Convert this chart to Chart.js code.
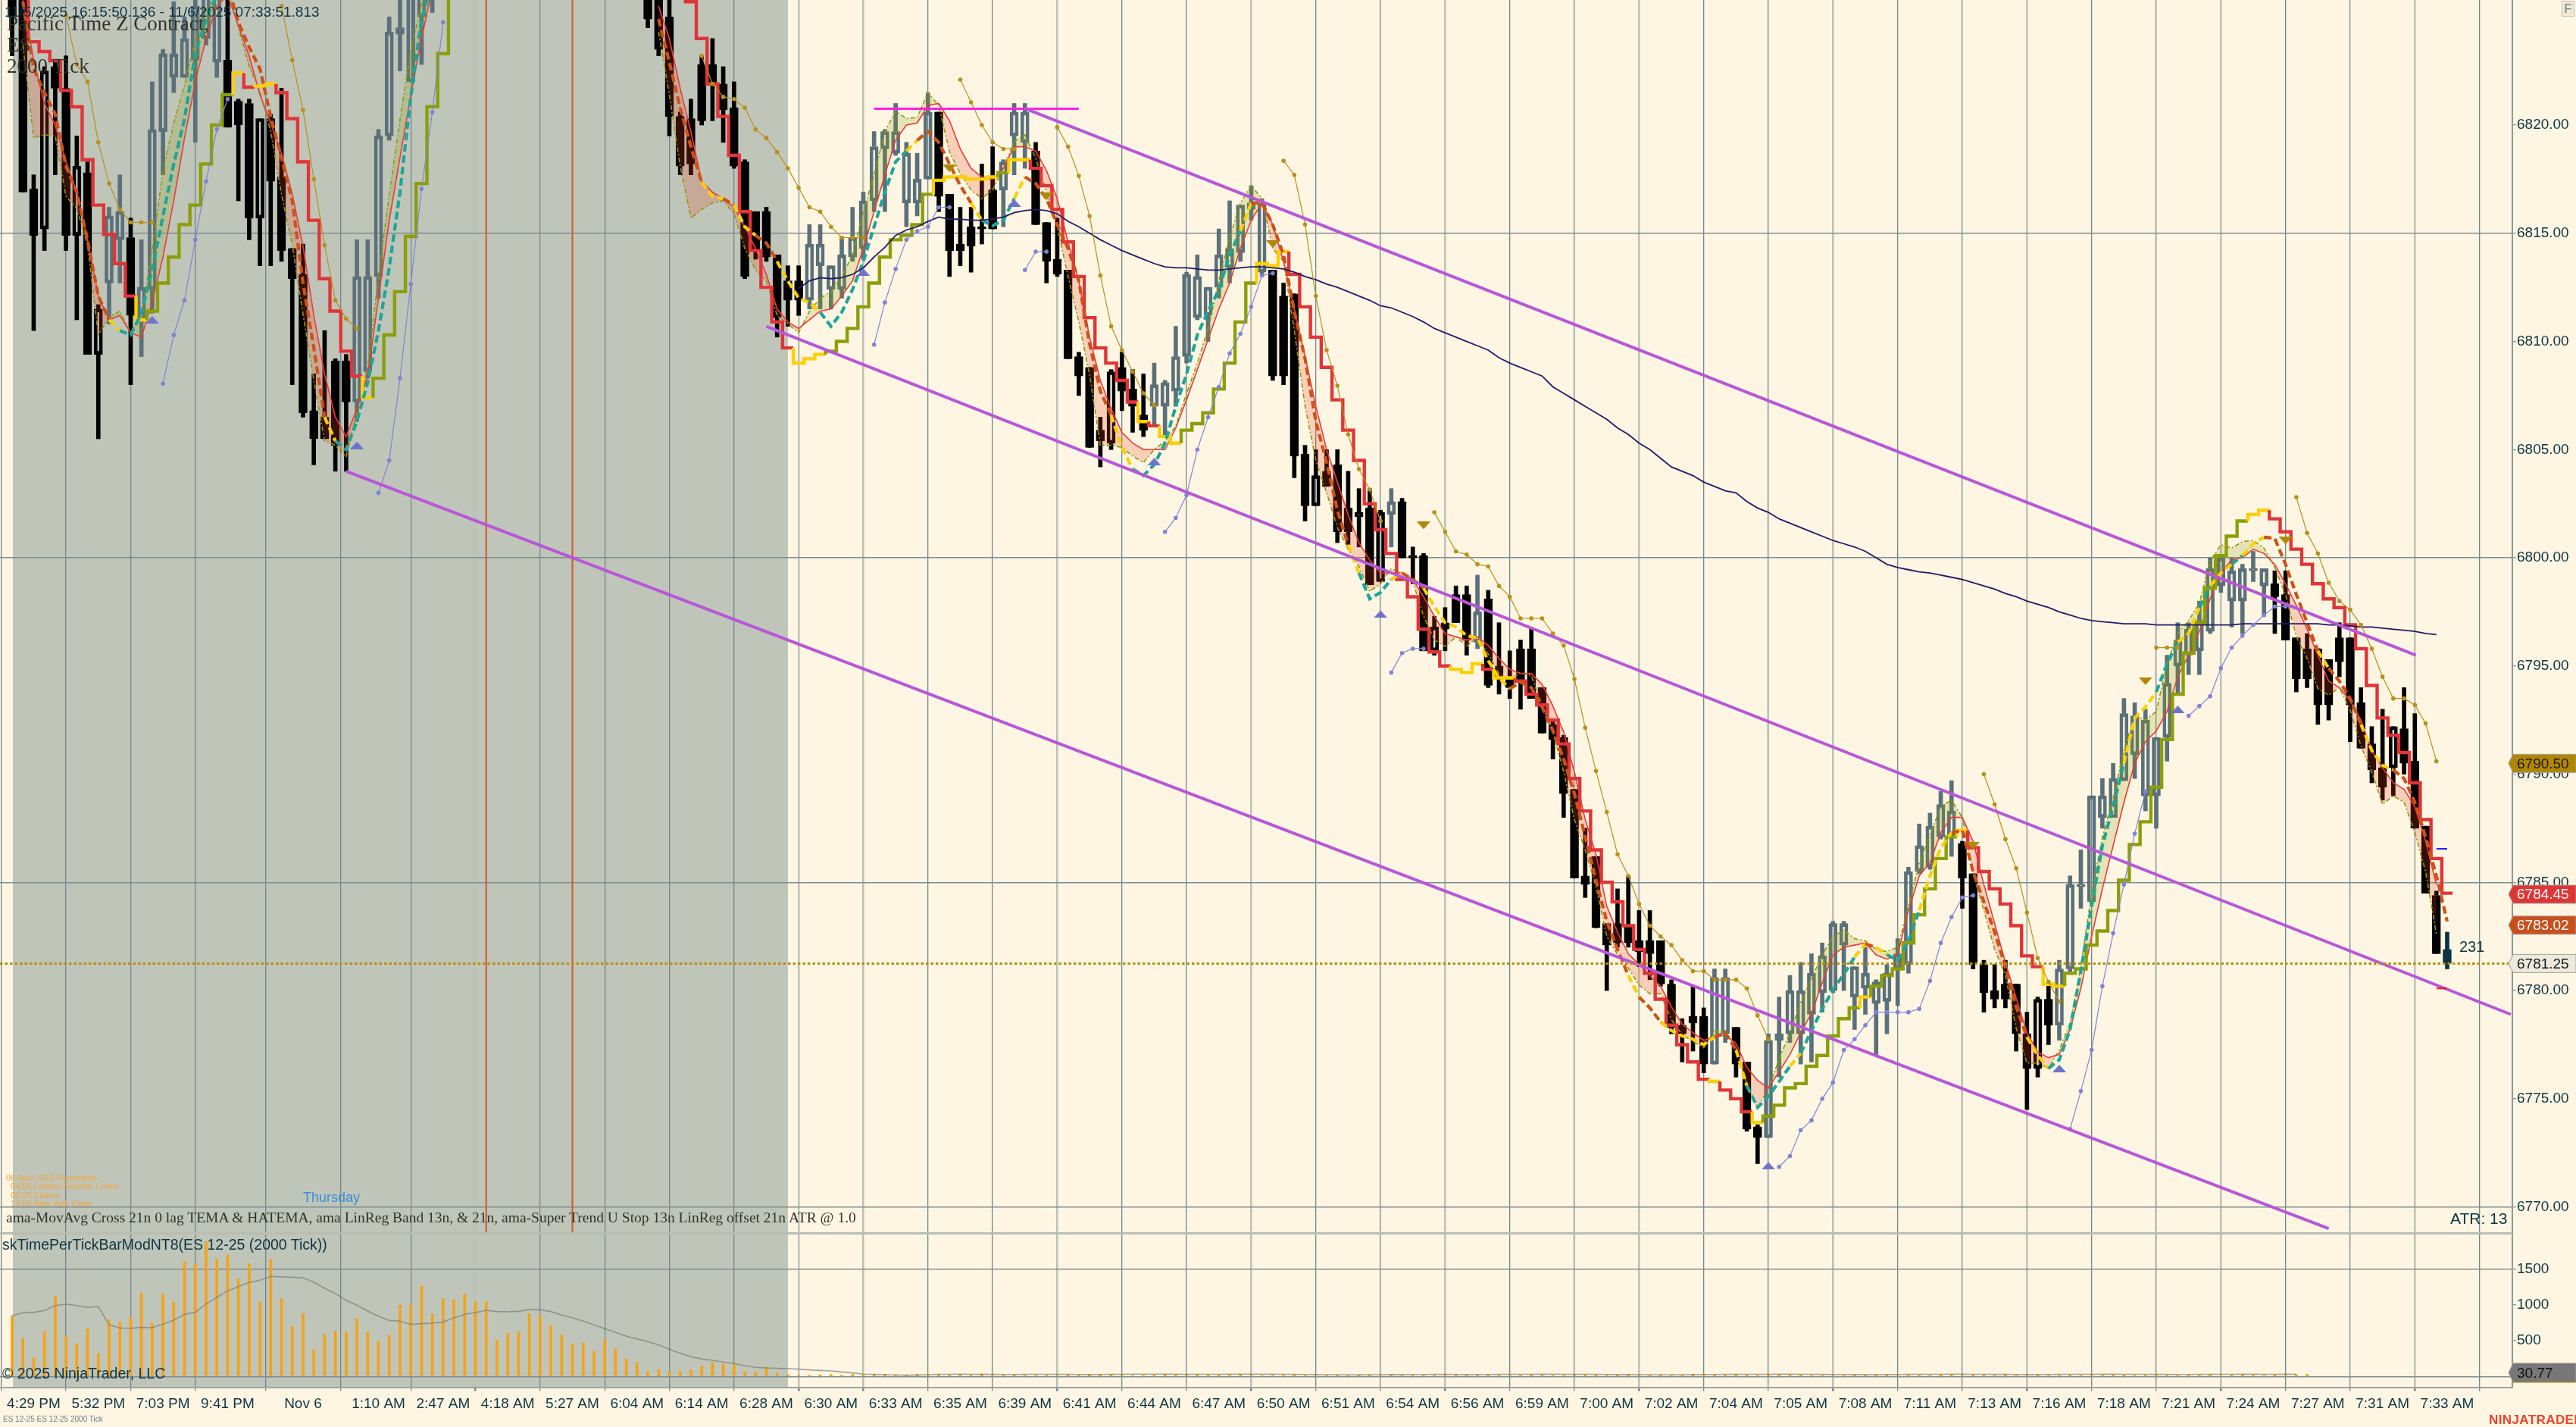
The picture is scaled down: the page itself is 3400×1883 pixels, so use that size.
<!DOCTYPE html>
<html>
<head>
<meta charset="utf-8">
<title>ES 12-25 2000 Tick</title>
<script src="https://cdn.jsdelivr.net/npm/chart.js@4"></script>
<style>
  html, body { margin: 0; padding: 0; background: #fef6e3; overflow: hidden; }
  #page { position: relative; width: 3400px; height: 1883px; }
  canvas { position: absolute; left: 0; display: block; }
  .txt { position: absolute; white-space: pre; font-family: "Liberation Sans", sans-serif; color: #0f3443; line-height: 1; }
  .serif { font-family: "Liberation Serif", serif; color: #33332c; }
  .rem { color: #f5a53a; font-size: 11px; }
</style>
</head>
<body>
<div id="page">
  <canvas id="priceChart" width="3400" height="1626" style="top:0"></canvas>
  <canvas id="volChart" width="3400" height="257" style="top:1626px"></canvas>

  <div class="txt" style="left:6px;top:6px;font-size:19px">11/5/2025 16:15:50.136 - 11/6/2025 07:33:51.813</div>
  <div class="txt serif" style="left:9px;top:18px;font-size:27px">Pacific Time Z Contract,</div>
  <div class="txt serif" style="left:9px;top:46px;font-size:27px">ES</div>
  <div class="txt serif" style="left:9px;top:74px;font-size:27px">2000 Tick</div>
  <div class="txt rem" style="left:8px;top:1549px">06-Nov-2025 Reminders</div>
  <div class="txt rem" style="left:14px;top:1560px">04:00 London Session Lunch</div>
  <div class="txt rem" style="left:14px;top:1572px">05:25 Claims</div>
  <div class="txt rem" style="left:14px;top:1583px">13:00 New York Close</div>
  <div class="txt" style="left:400px;top:1571px;font-size:18px;color:#3a8fd8">Thursday</div>
  <div class="txt serif" style="left:8px;top:1597px;font-size:19.5px">ama-MovAvg Cross 21n 0 lag TEMA &amp; HATEMA, ama LinReg Band 13n, &amp; 21n, ama-Super Trend U Stop 13n LinReg offset 21n ATR @ 1.0</div>
  <div class="txt" style="left:3px;top:1633px;font-size:19.5px">skTimePerTickBarModNT8(ES 12-25 (2000 Tick))</div>
  <div class="txt" style="left:3px;top:1803px;font-size:19.5px">&copy; 2025 NinjaTrader, LLC</div>
  <div class="txt" style="left:3234px;top:1597px;font-size:21px">ATR: 13</div>
  <div class="txt" style="left:3246px;top:1239px;font-size:20px">231</div>
  <div class="txt" style="left:4px;top:1868px;font-size:10px;color:#6a7c80">ES 12-25 ES 12-25 2000 Tick</div>
  <div class="txt" style="left:3285px;top:1865px;font-size:17px;font-weight:bold;color:#e8452c;letter-spacing:0.4px">NINJATRADER</div>
  <div class="txt" style="left:3381px;top:1px;width:17px;height:21px;background:#efe9d5;border:1px solid #c4c4b4;box-sizing:border-box;color:#6a8088;font-size:16px;text-align:center;line-height:20px">F</div>
</div>

<script>
// bars 0..226. nulls = bar is above the top of the window
const opens = [
  6827,6827,6817.05,6822.5,6822.7,6821.7,6818.1,6817.8,6811.5,6812.7,
  6814.7,6814.8,6811,6812.4,6819.7,6822.2,6822.2,6823,6824,6822.9,
  6823,6821.1,6821,6820.3,6820.3,6817.6,6814.3,6813.1,6806.8,6806.5,
  6809.1,6809.1,6807.2,6808.6,6813,6819.5,6824.2,6822,6825,6826,
  null,null,null,null,null,null,null,null,null,null,
  null,null,null,null,null,null,null,null,null,6826.5,
  6827,6825,6820.4,6820.3,6822.8,6822.8,6821.9,6820.8,6818.3,6816,
  6816,6814,6812.8,6812.8,6811.9,6813.5,6812.4,6812.4,6813.9,6814.3,
  6816.5,6818.9,6818.7,6816.4,6816.4,6817.5,6820.6,6816.8,6814.5,6815.3,
  6815.3,6817,6817,6819.5,6819.2,6818.8,6815.5,6813.8,6813.3,6809.3,
  6808.8,6805.9,6808.6,6808.8,6807.8,6806.6,6807,6807,6807.7,6809.3,
  6811.1,6811.2,6812.5,6813.4,6814.1,6816.1,6813.2,6813.3,6812.1,6812.2,
  6804.8,6803.8,6804,6804.3,6802.3,6802.1,6802.3,6802.1,6802,6802.6,
  6800.1,6800.1,6796.8,6797,6798.3,6798.3,6796.1,6798.1,6795,6794.5,
  6795.8,6795.8,6794,6792.3,6791.7,6789.3,6785.3,6786.2,6783.1,6783.1,
  6783,6782.3,6782.3,6782.3,6780.3,6778.4,6778.8,6778.8,6776.6,6778,
  6778.3,6776.7,6773.7,6773.2,6777.7,6778,6778,6778.9,6779.9,6780,
  6782.1,6779.7,6780.1,6779.4,6779.5,6781,6781.2,6785.5,6785.7,6787.1,
  6787.1,6786.8,6785.4,6781.2,6780,6780.3,6780.3,6778,6779.6,6779.6,
  6778.4,6781,6784.8,6784.1,6788,6788,6789.7,6790.9,6789,6789,
  6791.7,6795,6795.5,6795.7,6796.6,6798.7,6798,6798,6799.4,6798.7,
  6798.8,6798.3,6796.3,6795.8,6795.8,6795.3,6796.3,6796.3,6793.3,6791.4,
  6790.3,6792.2,6792.1,6790.6,6787.6,6784.4,6781.9
];
const closes = [
  6825,6816.9,6814.9,6815.2,6821.7,6814.9,6814.9,6809.4,6809.4,6815.8,
  6816,6811.2,6812.5,6819.8,6823.3,6823.3,6824,6825.5,6826,6826,
  6819.9,6820,6815.7,6815.7,6817.4,6814.2,6812.9,6806.7,6805.5,6805.5,
  6805.2,6807.2,6813,6813,6819.5,6824.3,6824.5,6826,6827,6827,
  null,null,null,null,null,null,null,null,null,null,
  null,null,null,null,null,null,null,null,null,6824.9,
  6823.5,6820.4,6818.1,6818.2,6820.2,6821.9,6820.7,6818.1,6813,6814.2,
  6813.9,6811.1,6811.9,6811.9,6814.5,6814.5,6813.5,6814,6814.8,6816.5,
  6819,6819.7,6819.7,6818.7,6817.5,6820.6,6816.7,6814.2,6814.2,6814.4,
  6815.2,6815.2,6818.3,6820.6,6820.6,6815.4,6813.7,6813.1,6809.2,6808.4,
  6805.1,6805.4,6805.3,6807.7,6807,6805.9,6808,6808.1,6809.3,6813.1,
  6813,6812.5,6814,6814.3,6816.3,6816.4,6816.4,6808.4,6808.4,6804.7,
  6802.4,6802.4,6803.3,6801.2,6801.2,6801.9,6798.75,6798.9,6802.6,6800,
  6800,6795.7,6795.7,6796.7,6797,6796.2,6797.5,6794.1,6794.4,6794,
  6794.3,6793.5,6791.9,6791.6,6789.1,6785.2,6784.9,6782.9,6782.1,6782.2,
  6782.2,6781.8,6781.7,6780.3,6778.3,6778,6778.5,6776.6,6780.6,6780.6,
  6776.6,6773.6,6773.2,6777.7,6778,6780,6780,6780.8,6781.6,6783.1,
  6783.1,6781.1,6780.8,6780.4,6780.8,6781.7,6785.5,6786.7,6787.6,6788.6,
  6788.3,6785.2,6781.2,6779.9,6779.6,6779.6,6778,6776.4,6776.4,6778.4,
  6781,6784.9,6784.9,6789,6789,6789.8,6792.8,6792.7,6792.5,6791.7,
  6794.2,6796.2,6796.7,6797.1,6799.5,6800,6799.4,6799.5,6799.5,6799.5,
  6798.2,6796.2,6794.4,6794.4,6793.2,6793.2,6795.2,6793.2,6791.2,6790.2,
  6789.4,6790.3,6790.5,6787.5,6784.5,6781.7,6781.25
];
const highs = [
  6828,6828,6817.7,6822.7,6823,6823.2,6819.5,6818.3,6811.7,6816.2,
  6817.7,6815.7,6814.7,6822,6823.5,6825.7,6825,6826.5,6827,6827,
  6826,6821.2,6821.2,6820.3,6820.5,6821.7,6814.3,6814.5,6808.5,6810.5,
  6809.2,6809.4,6814.7,6814.7,6819.8,6825,6826,6827,6828,6828,
  null,null,null,null,null,null,null,null,null,null,
  null,null,null,null,null,null,null,null,null,6827,
  6828,6826,6820.6,6821.2,6823.2,6824,6822.7,6822,6818.4,6816,
  6816.2,6814,6813.5,6813.5,6815.4,6815.4,6813.5,6814.8,6816.2,6816.9,
  6819.7,6819.8,6821,6819.2,6818.7,6821.5,6820.6,6816.8,6816.2,6816.2,
  6818.2,6819,6818.4,6821,6821,6819.2,6815.5,6815.7,6813.3,6809.5,
  6808.8,6806.5,6808.7,6809.5,6808.7,6808.5,6809,6808.2,6810.7,6813.2,
  6814,6812.5,6815.2,6816.5,6816.3,6817.2,6816.6,6813.3,6812.7,6812.2,
  6805.2,6805,6805,6805,6804,6803.2,6803.2,6802.2,6803.2,6802.75,
  6800.5,6800.2,6797.3,6797.7,6798.7,6798.7,6799.2,6798.5,6797,6795.7,
  6796.2,6796.7,6794,6792.5,6791.8,6789.3,6787.5,6786.2,6783.1,6784.7,
  6785.3,6783.7,6783.7,6782.3,6780.5,6778.7,6780.2,6779.2,6781,6781,
  6778.3,6776.7,6773.8,6778,6779.7,6780.7,6781.3,6781.7,6782.2,6783.2,
  6783.2,6781.1,6782,6780.5,6781.2,6782.4,6785.7,6787.7,6788.2,6789.2,
  6789.7,6786.9,6785.4,6781.4,6781.2,6781.4,6780.3,6779,6779.7,6780.2,
  6781.4,6785.3,6786.5,6789,6789.8,6790.5,6793.5,6793.3,6793,6791.7,
  6795.5,6797,6797,6798,6800,6800.1,6800,6799.7,6800.3,6799.5,
  6799.4,6799.4,6796.3,6796.5,6795.8,6795.3,6797,6796.3,6794,6792.2,
  6793,6792.2,6794,6792.8,6787.6,6784.6,6782.7
];
const lows = [
  6823.2,6816.9,6810.5,6814.2,6817.7,6814.2,6811,6809.4,6805.5,6810.8,
  6812.7,6808,6809.3,6811.3,6817.7,6821.5,6822.2,6819.2,6823.7,6822.2,
  6819.9,6816.5,6814.7,6813.5,6813.5,6813.7,6808,6806.5,6804.3,6805.5,
  6804,6804,6806.3,6808.3,6812,6819.3,6822.5,6822,6822.8,6825.2,
  null,null,null,null,null,null,null,null,null,null,
  null,null,null,null,null,null,null,null,null,6824.5,
  6823.2,6819.5,6817.7,6817.7,6820,6820.2,6819.2,6818,6812.9,6813.8,
  6813.7,6810.2,6810.7,6811.2,6811.5,6811.5,6811.5,6812,6813.7,6813.8,
  6816,6816,6818.6,6815.3,6815.8,6817.5,6816,6813,6813.5,6813.2,
  6814.5,6815.2,6815.3,6817.7,6818,6815.4,6812.7,6813,6809.2,6807.5,
  6805.1,6804.2,6805,6806.8,6805.8,6805.6,6806.1,6805.6,6807,6809,
  6811,6810,6812,6812.7,6813.7,6815.6,6813,6808.2,6808,6803.7,
  6801.7,6802.4,6803.3,6800.7,6800.6,6800.5,6798.75,6798.9,6800.5,6800,
  6798.8,6795.7,6795.5,6795.7,6797,6795.5,6795.8,6794,6793.7,6793.5,
  6793,6793.5,6791.9,6790.7,6788,6785.2,6784.3,6782.9,6780,6782,
  6782,6781.1,6780.5,6780.2,6778,6776.7,6777.2,6776.2,6776.6,6777.6,
  6776,6773.5,6772,6773.2,6776,6777.6,6776.6,6776.7,6779,6779.9,
  6780,6778.2,6778.9,6777,6778,6779.3,6780.8,6785.4,6785.6,6787,
  6786.2,6783.8,6781,6779,6779.2,6779.2,6777.2,6774.5,6776,6777.5,
  6777.7,6780.8,6783.8,6784,6787.5,6788,6789.7,6789.8,6788.3,6787.5,
  6790.6,6793.7,6794.6,6794.6,6796.5,6798.4,6796.8,6796.5,6798.9,6797.3,
  6796.5,6796.2,6793.8,6794,6792.3,6792.5,6794.5,6791.5,6791.2,6789.6,
  6788.8,6789,6790,6787.5,6784.5,6781.7,6781
];
// black bars that have a slit in the body
const slitBlack = [3,6,8,23,102,121,127,132,188,221];

// super trend stop, one value a bar, and which colour run it is in
const stopLine = [
  null,6827.5,6823.85,6823.4,6822.98,6821.6,6820.84,6818.4,6816.3,6814.95,
  6813.6,6812.1,6811,6811.4,6812.7,6813.9,6815.4,6816.3,6818.2,6820,
  6821.4,6822.4,6821.75,6821.8,6821.9,6821.5,6820.3,6818.3,6815.6,6812.9,
  6811.4,6809.55,6808.4,6807.4,6808.3,6810.3,6812.3,6814.85,6817.3,6820.85,
  6823.3,6826.5,null,null,null,null,null,null,null,null,
  null,null,null,null,null,null,null,null,null,null,
  null,null,6826.2,6825.7,6824,6821.9,6820.4,6818.6,6816,6814.2,
  6812.5,6810.9,6809.7,6809,6809.2,6809.4,6809.55,6810,6810.6,6811.6,
  6812.7,6813.9,6814.7,6814.9,6815.4,6816.8,6817.45,6817.6,6817.6,6817.5,
  6817.5,6817.6,6817.8,6818.4,6818.4,6818,6817.2,6816.1,6814.6,6813,
  6811.1,6809.7,6809,6808.2,6807.2,6806.3,6806.1,6805.6,6805.3,6805.9,
  6806.2,6806.7,6807.8,6809,6810.9,6812.7,6813.6,6813.5,6814.15,6813.1,
  6811.6,6810.2,6808.8,6807.3,6805.9,6804.5,6802.5,6801.3,6800.2,6799,
  6798.2,6796.7,6795.65,6795,6794.85,6794.7,6795.1,6794.85,6794.45,6794.45,
  6794.3,6793.7,6793.2,6792.5,6791.4,6789.8,6788.3,6786.5,6785,6784.1,
  6783,6781.9,6780.8,6779.6,6778.4,6777.5,6776.7,6775.9,6775.8,6775.4,
  6775,6774.4,6773.9,6774.2,6774.7,6775.5,6775.7,6776.5,6777,6777.9,
  6778.7,6779.2,6779.7,6780.2,6780.7,6781,6782.2,6783.5,6784.7,6786.1,
  6787.1,6787.4,6786.6,6785.5,6784.7,6784,6783,6781.6,6781.1,6780.3,
  6780.2,6780.8,6781,6782.1,6782.75,6783.7,6785.1,6786.75,6787.8,6789.4,
  6791.6,6793.7,6795.6,6797,6798.6,6800.1,6801,6801.7,6802,6802.2,
  6801.8,6801.2,6800.4,6799.7,6798.8,6798.1,6797.7,6796.9,6795.8,6794.1,
  6792.6,6791.8,6791,6789.6,6787.9,6786.1,6784.5
];
// [first bar, last bar, d=down u=up n=neutral]
const stopRuns = [[0,11,'d'],[12,12,'n'],[13,20,'u'],[21,21,'n'],[22,22,'d'],[23,24,'n'],[25,32,'d'],[33,33,'n'],[34,61,'u'],
  [62,72,'d'],[73,75,'n'],[76,85,'u'],[86,91,'n'],[92,92,'u'],[93,94,'n'],[95,104,'d'],[105,105,'n'],[106,106,'d'],[107,108,'n'],
  [109,115,'u'],[116,118,'n'],[119,133,'d'],[134,136,'n'],[137,137,'d'],[138,139,'n'],[140,157,'d'],[158,158,'n'],[159,161,'d'],
  [162,162,'n'],[163,171,'u'],[172,172,'n'],[173,180,'u'],[181,181,'n'],[182,188,'d'],[189,190,'n'],[191,207,'u'],[208,209,'n'],[210,226,'d']];

// 0 lag TEMA, the thick dashed one
const temaLine = [
  null,6825.7,6822.6,6821.5,6820.5,6818.1,6816.9,6814.7,6812.1,6811,
  6810.5,6810.3,6811.3,6813.3,6815.8,6818.2,6820.3,6823.3,6824.9,6826,
  6826.5,6824.75,6823.6,6822.6,6820.4,6818.5,6816.5,6812.7,6809.7,6806.5,
  6805.4,6805,6806.3,6808.1,6810.5,6813.4,6816.9,6821.3,6824.9,6826.5,
  null,null,null,null,null,null,null,null,null,null,
  null,null,null,null,null,null,null,null,null,null,
  6824.9,6822.9,6820.8,6819,6817.35,6816.7,6816.6,6816.3,6815.3,6814.9,
  6814.55,6813.7,6812.8,6812,6811.8,6811.35,6810.7,6811.35,6812.4,6813.7,
  6815.3,6816.9,6818.3,6818.8,6819.3,6819.7,6819.2,6818.2,6817.2,6816.4,
  6815.6,6815.35,6815.6,6816.6,6817.6,6817.3,6816.6,6815.4,6814.3,6812.8,
  6809.9,6807.7,6806.6,6805.1,6804.1,6803.8,6804.3,6805.3,6807,6808.5,
  6810.3,6811.4,6812.4,6814,6815.1,6816.4,6816.4,6815.4,6814,6811.4,
  6809.2,6806.3,6804.4,6802.2,6800.6,6799.3,6798.1,6798.4,6799,6799.3,
  6799,6798.6,6797.75,6797,6796.8,6796.4,6796.3,6795.25,6794.45,6793.95,
  6794.25,6794,6793.1,6792,6790.7,6789.1,6787.1,6785.1,6783.2,6781.9,
  6780.7,6779.7,6779.2,6778.55,6778.15,6777.9,6777.75,6777.5,6777.85,6778.05,
  6777.25,6775.6,6774.6,6775.1,6775.8,6776.5,6777.1,6778.15,6779.15,6780.05,
  6780.75,6781.55,6782.15,6782,6781.65,6781.4,6782.3,6783.7,6785.3,6786.6,
  6787.3,6787.4,6785.5,6784.1,6782.7,6781.1,6779.25,6777.85,6777,6776.4,
  6776.8,6778.2,6780.9,6783.9,6786.7,6788.5,6790.5,6792.6,6793.1,6793.8,
  6795.1,6796.1,6796.5,6797.7,6798.7,6799.3,6799.7,6800.1,6800.65,6800.95,
  6800.9,6799.7,6798.3,6797,6795.7,6794.9,6794.3,6793.5,6792.3,6791.1,
  6790.4,6790.2,6789.8,6788.7,6787.1,6785.3,6783.2
];
const temaRuns = [[0,9,'d'],[10,10,'n'],[11,19,'u'],[20,29,'d'],[30,30,'n'],[31,59,'u'],[60,64,'d'],[65,66,'n'],[67,67,'d'],[68,69,'n'],
  [70,71,'d'],[72,75,'n'],[76,83,'u'],[84,84,'n'],[85,89,'d'],[90,90,'n'],[91,93,'u'],[94,94,'n'],[95,102,'d'],[103,104,'n'],
  [105,114,'u'],[115,115,'n'],[116,124,'d'],[125,125,'n'],[126,128,'u'],[129,129,'n'],[130,131,'d'],[132,139,'n'],[140,150,'d'],
  [151,151,'n'],[152,153,'d'],[154,158,'n'],[159,160,'d'],[161,161,'n'],[162,165,'u'],[166,166,'n'],[167,171,'u'],[172,172,'n'],
  [173,173,'d'],[174,174,'n'],[175,177,'u'],[178,180,'n'],[181,187,'d'],[188,189,'n'],[190,196,'u'],[197,199,'n'],[200,201,'u'],
  [202,203,'n'],[204,204,'u'],[205,206,'n'],[207,207,'u'],[208,209,'n'],[210,214,'d'],[215,215,'n'],[216,218,'d'],[219,221,'n'],[222,226,'d']];

// thin red and the olive dash-dot, band is filled between them
const hatemaLine = [
  null,6825.8,6823,6821,6820,6818.3,6816.9,6814.7,6812.1,6811,
  6811.2,6810.4,6810.2,6811.8,6813.9,6816.5,6819.4,6822,6824,6825.5,
  6826,6824.6,6823.2,6821.4,6820.1,6818.7,6816.8,6814.4,6811.2,6808.5,
  6806.5,6805.6,6806.9,6808.4,6812,6815.6,6818.5,6821.4,6824,6826.3,
  null,null,null,null,null,null,null,null,null,null,
  null,null,null,null,null,null,null,null,null,null,
  6825.5,6824,6821.7,6819.7,6817.4,6816.9,6816.6,6816.2,6815.3,6814.3,
  6813.1,6811.5,6810.9,6810.6,6811,6811.4,6811.5,6812.1,6812.8,6814.3,
  6816,6817.7,6819.3,6820,6820.1,6820.9,6821,6820.2,6818.9,6818,
  6817.6,6817.5,6818,6819,6819,6818.8,6817.9,6816.6,6814.6,6812.8,
  6810.2,6808.2,6806.9,6805.8,6805.3,6805,6805,6805,6806,6807.3,
  6808.7,6810.1,6811.5,6812.7,6814.3,6815.6,6816.4,6815.4,6813.7,6811.5,
  6809.3,6807,6805,6803.5,6802,6800.7,6799.9,6799.3,6799.3,6799.3,
  6799,6798.2,6797.3,6796.5,6796.35,6796.2,6796.35,6795.95,6795.35,6794.85,
  6794.65,6794.65,6794.15,6793.15,6791.95,6790.1,6787.9,6786.3,6783.9,6782.7,
  6781.7,6781.2,6780.7,6780.2,6779.25,6778.45,6778.05,6777.7,6777.85,6777.95,
  6777.55,6776.45,6775.85,6775.5,6776.25,6777.05,6778.05,6778.95,6780.35,6781.65,
  6782,6782.1,6782.2,6781.65,6781.45,6781.65,6783.7,6785.3,6785.9,6787.3,
  6788,6788,6786.9,6784.9,6783.1,6781.3,6779.65,6778.05,6777.15,6776.9,
  6777.05,6778.2,6780.1,6782.5,6784.7,6786.7,6788.7,6790.5,6791.5,6792,
  6792.9,6794.5,6795.5,6796.6,6798.1,6799.3,6799.9,6800,6800.4,6800.2,
  6799.7,6798.8,6797.8,6796.7,6795.5,6794.3,6794,6793.4,6792.5,6791.1,
  6790.3,6789.6,6789.3,6788.5,6786.9,6784.9,null
];
const bandLine = [
  null,6823.7,6819.4,6819.55,6819.5,6816.7,6816.15,6814.45,6810.3,6811.1,
  6811.4,6810.4,6811.25,6814.2,6817.9,6820.1,6821.85,6823.9,6825.3,6826,
  6826.5,6824.5,6822.7,6821.55,6819.7,6816.8,6814.45,6811.25,6808.2,6805.4,
  6805.2,6804.65,6806.75,6808.8,6813,6816.8,6820.25,6823.45,6825.6,6827,
  null,null,null,null,null,null,null,null,null,null,
  null,null,null,null,null,null,null,null,null,null,
  6824.3,6821.4,6818.1,6815.7,6816.1,6816.4,6816.5,6815.9,6814.3,6813.3,
  6812.8,6811.2,6810.8,6810.4,6811.4,6812,6812.3,6813,6814,6816,
  6817.7,6819.7,6820.65,6820.3,6820.35,6821.5,6820.9,6818.75,6817.75,6817,
  6816.6,6817,6818,6819.25,6819.55,6818.45,6816.9,6815.3,6813,6810.9,
  6808.45,6805.2,6805.2,6805.1,6804.7,6804.4,6805,6805.4,6806.1,6807.6,
  6809,6810.6,6812.8,6814.8,6816.4,6817.2,6816.6,6814.3,6813.7,6810.5,
  6807,6804.5,6803,6801.4,6800.4,6799.6,6798.45,6798.8,6799.5,6799.3,
  6798.9,6797.3,6796.2,6795.9,6796.35,6795.9,6796.35,6795.55,6794.65,6794.35,
  6794.7,6794.55,6793.15,6791.95,6790.1,6787.9,6786.5,6784.8,6782.5,6781.65,
  6781.05,6780.25,6779.85,6779.85,6778.65,6777.95,6777.65,6777.35,6778.15,6778.15,
  6777.35,6775.65,6774.6,6775.45,6776.85,6778.05,6779.45,6780.55,6781.65,6782.5,
  6782.8,6782.4,6782.3,6781.9,6781.8,6782,6783.9,6785.9,6787.2,6788.5,
  6788.8,6788,6785.4,6783.7,6781.9,6780.7,6778.25,6776.65,6776.65,6776.4,
  6777.25,6778.5,6781.1,6784.5,6787.1,6788.9,6791.1,6792.7,6792.5,6792.9,
  6795.1,6796.5,6797.1,6797.9,6799.85,6800.6,6800.45,6800.75,6800.8,6800.45,
  6799.55,6798.3,6796.35,6795.35,6793.95,6793.65,6794,6792.95,6791.3,6790.1,
  6788.6,6789,6788.7,6787.3,6785.5,6782.6,null
];

// dotted offset lines, broken up: [first bar, values]
const goldRuns = [
  [5,[6825.05,6822.8,6822,6819.2,6817.3,6816.1,6815.5,6815.5,6815.5]],
  [25,[6825.5,6823,6820.7,6817.5,6814.45,6811.9,6811.05,6810.6]],
  [64,[6823.2,6821.9,6821.3,6821.2,6820.8,6819.8,6819.4,6818.75,6818,6817.1,6816.2,6816,6815.3,6814.8,6814.8,6814.8]],
  [88,[6822.1,6821.05,6820,6819.2,6818.9,6818.9]],
  [97,[6819.9,6819,6817.65,6815.8,6813.05,6810.7,6809.6,6808.6,6807.6,6807.05]],
  [118,[6818.35,6817.7,6815.4,6812.1,6809.6,6807.95,6805.7,6804.1,6803.15,6801.7]],
  [132,[6802.1,6801.2,6800.3,6800.15,6799.7,6799.6,6798.7,6798.2,6797.2,6797.2,6797.2,6796.5,6795.95,6794.4,6792.15,6790.15,6788.25,6786.3,6785.3,6784,6783,6782.5,6782.1,6781.4,6780.9,6780.9,6780.5,6780.5,6780.5,6780.1,6778.85,6777.75]],
  [183,[6790,6788.6,6787,6785.65,6783.6,6781.5,6780.4,6779.5]],
  [199,[6795.85,6795.85,6795.85]],
  [212,[6802.8,6801.15,6800.2,6798.85,6798,6797.6,6796.9,6795.8,6794.5,6793.5,6793.5,6793.2,6792.35,6790.6]]
];
const blueRuns = [
  [14,[6808.05,6810.3,6811.9,6814.7,6817.4,6819.8,6821.2]],
  [34,[6803,6804.5,6808.3,6812.65,6817.05,6820.6,6824.75]],
  [80,[6809.85,6811.8,6813.35,6814.7,6815.1,6815.3,6816.2,6816.2]],
  [94,[6813.3,6814.15,6814.15]],
  [107,[6801.2,6801.85,6802.9,6805,6806.5,6807.9,6809.45,6810.35,6811.6,6813.05,6813.15]],
  [128,[6794.7,6795.6,6795.8,6795.8]],
  [164,[6771.85,6772.35,6773.55,6774,6775,6775.75,6777.25,6777.75,6778.4,6779,6779,6779,6779,6779.15,6780.45,6782.2,6783.4,6784.3,6784.4]],
  [191,[6773.6,6775.35,6777.25,6780.2,6782.65,6784.9,6787.25,6789.2]],
  [202,[6792.7,6793.15,6793.6,6794.9,6795.85,6796.4,6796.9,6797.35,6797.75,6797.75]]
];

// long moving average, bar 73 to bar 225
const maStart = 73;
const maLine = [
  6812.45,6812.8,6812.95,6812.9,6812.95,6813.1,6813.4,6813.9,6814.35,6814.9,6815.15,6815.3,6815.55,6815.75,6815.65,6815.65,6815.6,
  6815.6,6815.65,6815.75,6815.95,6816.05,6816.1,6816.05,6815.9,6815.55,6815.3,6815,6814.7,6814.45,6814.2,6814,6813.8,6813.6,
  6813.45,6813.4,6813.4,6813.35,6813.3,6813.3,6813.35,6813.4,6813.45,6813.45,6813.4,6813.35,6813.2,6813,6812.85,6812.65,6812.5,
  6812.3,6812.1,6811.9,6811.65,6811.55,6811.35,6811.15,6810.9,6810.6,6810.4,6810.2,6810,6809.8,6809.6,6809.25,6809,6808.8,6808.6,
  6808.4,6807.9,6807.6,6807.3,6807,6806.7,6806.4,6806,6805.7,6805.3,6805,6804.6,6804.2,6804,6803.8,6803.5,6803.3,6803.1,6803,
  6802.6,6802.3,6802.1,6801.8,6801.6,6801.4,6801.2,6801,6800.8,6800.65,6800.5,6800.3,6800,6799.7,6799.55,6799.45,6799.35,6799.3,
  6799.2,6799.1,6799,6798.85,6798.7,6798.55,6798.35,6798.2,6798,6797.85,6797.7,6797.5,6797.35,6797.2,6797.1,6797.05,6797,
  6796.95,6796.95,6796.95,6796.9,6796.9,6796.9,6796.9,6796.9,6796.9,6796.9,6796.9,6796.95,6796.95,6796.95,6796.95,6796.95,6796.95,
  6796.95,6796.95,6796.9,6796.9,6796.85,6796.8,6796.8,6796.75,6796.7,6796.65,6796.6,6796.5,6796.45
];

// drawn lines, [bar, price] at each end
const channelTop = [[94,6820.77],[223.1,6795.5]];
const channelMid = [[70,6810.7],[231.9,6778.9]];
const channelLow = [[31,6804],[215,6769]];
const flatLine = [[80,6820.75],[99,6820.75]];
const lastPrice = 6781.25;
const tickHigh = 6786.55;
const tickLow = 6780.1;
const redBars = [44,52];

const upMarks = [[13,6811],[32,6805.2],[79,6813.2],[93,6816.4],[106,6804.45],[127,6797.4],[163,6771.9],[190,6776.4],[201,6793]];
const downMarks = [[87,6818],[96,6816.7],[117,6814.5],[131,6801.5],[182,6786.7],[198,6794.3],[211,6800.8]];

// volume panel
const perTick = [
  841,535,260,630,1123,560,454,665,320,788,764,824,1165,743,1147,1035,1598,1563,1880,1633,
  1693,1359,1570,1035,1633,1088,700,876,373,584,637,623,806,623,489,577,993,1007,1257,869,
  1084,1070,1151,1042,1042,503,602,620,876,852,711,577,454,468,348,510,384,243,194,74,
  92,67,74,95,148,200,172,183,67,67,130,46,25,12,18,22,25,18,30,22,
  25,30,20,18,28,22,30,20,25,18,38,20,18,25,15,12,18,16,22,18,
  25,28,30,18,14,15,20,30,22,22,28,22,20,18,28,25,14,12,18,24,
  12,16,15,20,16,18,24,20,26,16,12,18,15,22,25,12,14,20,16,25,
  18,24,22,15,14,20,28,22,16,20,26,14,18,24,16,20,26,28,22,18,
  26,20,16,20,24,18,22,15,14,12,16,20,18,26,22,12,14,22,16,26,
  20,14,24,22,16,28,16,20,24,12,14,24,16,24,18,22,20,14,18,20,
  16,12,22,18,24,14,20,26,18,16,22,18,24,31
];
const perTickAvg = [
  848,887,894,919,989,1007,989,961,975,718,676,672,686,679,729,785,866,894,1010,1102,
  1193,1253,1309,1341,1394,1387,1383,1373,1316,1228,1158,1060,993,912,841,781,771,725,736,743,
  760,817,866,891,922,905,901,908,933,929,905,855,820,771,718,665,612,560,524,486,
  440,380,324,275,243,225,201,180,151,127,120,113,109,102,92,84,77,63,49,32,
  28,25,21,18,20,24,28,30,31,30,28,28,27,27,28,30,30,29,28,27,
  26,27,28,30,32,33,33,32,31,30,30,29,30,31,32,33,32,31,30,29,
  27,26,25,24,24,23,24,25,26,26,27,27,28,28,27,26,26,27,28,29,
  29,30,31,31,30,30,29,28,27,26,26,25,24,24,25,25,26,27,27,28,
  28,29,30,30,31,31,30,29,28,27,27,26,26,25,26,27,28,29,30,30,
  31,31,30,29,28,28,27,26,26,27,28,29,30,30,31,31,30,30,29,28,
  28,27,27,28,29,30,30,31,31,30,30,31,31
];

const gridBars = [2,8,14,20,27,34,40,46,52,58,64,70,76,82,88,94,100,106,112,118,124,130,136,142,148,154,160,166,172,178,184,190,196,202,208,214,220,226];
const timeLabels = ["4:29 PM","5:32 PM","7:03 PM","9:41 PM","Nov 6","1:10 AM","2:47 AM","4:18 AM","5:27 AM","6:04 AM","6:14 AM","6:28 AM","6:30 AM","6:33 AM","6:35 AM","6:39 AM","6:41 AM","6:44 AM","6:47 AM","6:50 AM","6:51 AM","6:54 AM","6:56 AM","6:59 AM","7:00 AM","7:02 AM","7:04 AM","7:05 AM","7:08 AM","7:11 AM","7:13 AM","7:16 AM","7:18 AM","7:21 AM","7:24 AM","7:27 AM","7:31 AM","7:33 AM"];
const widerGridBars = [46,76,82,100,118,136,154,172,190,208,226];
const priceTicks = [6770,6775,6780,6785,6790,6795,6800,6805,6810,6815,6820];
const priceGrid = [6770,6785,6800,6815];
const volTicks = [0,500,1000,1500];
const volGrid = [0,1500];

// price tags on the right axis: value, fill, text colour
const priceTags = [
  [6790.50,"#b08600","#1c1c10"],
  [6784.45,"#e03535","#ffffff"],
  [6783.02,"#c94f1c","#ffffff"],
  [lastPrice,"#eee9da","#101a20"]
];
const volTag = 30.77;
const sessionEnd = 72;   // grey session stops here (bar position)
const sessionStart = 0.07;

const CREAM = "#fef6e3", SESSION = "#bfc5b9", SLATE = "#5b7079", BLACK = "#000000";
const XMIN = -1.125, XMAX = 232.05;
const AXIS_W = 84;

const runState = (runs, i) => {
  for (const r of runs) if (i >= r[0] && i <= r[1]) return r[2];
  return 'd';
};
const sparse = (runs) => {
  const out = new Array(227).fill(null);
  runs.forEach(r => r[1].forEach((v, k) => { out[r[0] + k] = v; }));
  return out;
};
const xy = (arr, start = 0) => arr.map((v, i) => ({ x: i + start, y: v }));
const pairs = (arr) => arr.map(p => ({ x: p[0], y: p[1] }));
// each bar gets its own tread so the stop draws as stairs
const treads = (arr) => arr.flatMap((v, i) => [{ x: i - 0.5, y: v }, { x: i + 0.5, y: v }]);

const bars = [];
opens.forEach((o, i) => { if (o !== null) bars.push(i); });
const bodyTop = i => Math.max(opens[i], closes[i]);
const bodyBot = i => Math.min(opens[i], closes[i]);
const barColor = i => i === 226 ? "#0b3340" : (closes[i] > opens[i] ? SLATE : BLACK);
const isHollow = i => i !== 226 && (closes[i] > opens[i] || slitBlack.includes(i));

const stopColors = { d: "#e03538", u: "#8c9e08", n: "#ffd000" };
const temaColors = { d: "#cc5218", u: "#1fa598", n: "#ffd000" };

const channel = (pts, color, width) => ({
  type: "line", data: pairs(pts), borderColor: color, borderWidth: width,
  pointRadius: 0, order: 5
});
const dotted = (arr, color) => ({
  type: "line", data: xy(arr), borderColor: color, backgroundColor: color, borderWidth: 1.2,
  pointRadius: 2.8, pointBorderWidth: 0, order: 20
});

// the flat triangles, chart.js draws this canvas as the point
const triangleMark = (color, down) => {
  const c = document.createElement("canvas");
  c.width = 18; c.height = 10;
  const g = c.getContext("2d");
  g.fillStyle = color;
  g.beginPath();
  g.moveTo(0, down ? 0 : 10);
  g.lineTo(18, down ? 0 : 10);
  g.lineTo(9, down ? 10 : 0);
  g.closePath();
  g.fill();
  return c;
};

// session shading and background, goes under the grid
const backdrop = {
  id: "backdrop",
  beforeDraw(chart) {
    const { ctx, width, height, scales: { x } } = chart;
    ctx.save();
    ctx.fillStyle = CREAM;
    ctx.fillRect(0, 0, width, height);
    ctx.fillStyle = SESSION;
    const l = x.getPixelForValue(sessionStart), r = x.getPixelForValue(sessionEnd);
    ctx.fillRect(l, 0, r - l, chart.chartArea.bottom);
    ctx.restore();
  }
};

const drawTag = (ctx, y, h, fill, textColor, label) => {
  const x0 = 3311, x1 = 3316, right = 3400;
  ctx.save();
  ctx.beginPath();
  ctx.moveTo(x0, y);
  ctx.lineTo(x1 + 1, y - h / 2);
  ctx.lineTo(right, y - h / 2);
  ctx.lineTo(right, y + h / 2);
  ctx.lineTo(x1 + 1, y + h / 2);
  ctx.closePath();
  ctx.fillStyle = fill;
  ctx.fill();
  ctx.strokeStyle = "#a0a09a";
  ctx.lineWidth = 1;
  ctx.stroke();
  ctx.fillStyle = textColor;
  ctx.font = "19px 'Liberation Sans'";
  ctx.textBaseline = "middle";
  ctx.textAlign = "left";
  ctx.fillText(label, 3322, y + 1);
  ctx.restore();
};

const tagsPlugin = {
  id: "tags",
  afterDraw(chart) {
    const y = chart.scales.y;
    priceTags.forEach(t => drawTag(chart.ctx, y.getPixelForValue(t[0]), 24, t[1], t[2], t[0].toFixed(2)));
  }
};
const volTagPlugin = {
  id: "volTag",
  afterDraw(chart) {
    const { ctx, scales: { y } } = chart;
    drawTag(ctx, y.getPixelForValue(volTag) - 2, 25, "#777777", "#111111", volTag.toFixed(2));
    ctx.save();
    ctx.fillStyle = "#b9bdb2";
    ctx.fillRect(0, 0, 3316, 3);  // divider between the panels
    ctx.fillStyle = "#b08600";
    ctx.fillRect(3316, y.getPixelForValue(volTag) + 10, 84, 1);
    ctx.restore();
  }
};

// first and last labels must not push the plot in
const noPadding = s => { s.paddingTop = 0; s.paddingBottom = 0; s.paddingLeft = 0; s.paddingRight = 0; };

const xOptions = (withLabels) => ({
  type: "linear", min: XMIN, max: XMAX, offset: false,
  afterBuildTicks: s => { s.ticks = gridBars.map(v => ({ value: v })); },
  afterFit: s => { s.height = withLabels ? 52.4 : 0; noPadding(s); },
  border: withLabels ? { display: true, color: "#9aa5a5", width: 2 } : { display: false },
  grid: {
    color: c => widerGridBars.includes(c.tick?.value) ? "#bcc1b6" : "#72868e",
    lineWidth: c => widerGridBars.includes(c.tick?.value) ? 2.5 : 1.3,
    tickLength: 5,
    drawTicks: withLabels,
    tickColor: "#72868e"
  },
  ticks: {
    display: withLabels, autoSkip: false, maxRotation: 0, padding: 6,
    color: "#0f3443", font: { family: "Liberation Sans", size: 19 },
    callback: v => timeLabels[gridBars.indexOf(v)]
  }
});
const yOptions = (min, max, ticks, gridded, fmt) => ({
  type: "linear", position: "right", min, max,
  afterBuildTicks: s => { s.ticks = ticks.map(v => ({ value: v })); },
  afterFit: s => { s.width = AXIS_W; noPadding(s); },
  border: { display: true, color: "#8a989c", width: 2 },
  grid: {
    color: c => gridded.includes(c.tick?.value) ? "#7d8d91" : "rgba(0,0,0,0)",
    lineWidth: 1.4, tickLength: 5, tickColor: "#8f9c9f"
  },
  ticks: {
    padding: 1, color: "#0f3443", font: { family: "Liberation Sans", size: 19 },
    callback: fmt
  }
});

const priceChart = new Chart(document.getElementById("priceChart"), {
  type: "bar",
  data: {
    datasets: [
      // markers and drawn lines on top
      { type: "line", data: pairs(upMarks), showLine: false, pointStyle: triangleMark("#6f73c8", false), order: 2 },
      { type: "line", data: pairs(downMarks), showLine: false, pointStyle: triangleMark("#b08808", true), order: 2 },
      channel(channelTop, "#b757d8", 4),
      channel(channelMid, "#b757d8", 4),
      channel(channelLow, "#b757d8", 4),
      channel(flatLine, "#ff22dd", 3),
      { type: "line", data: [{ x: XMIN, y: lastPrice }, { x: XMAX, y: lastPrice }], borderColor: "#b8900c",
        borderWidth: 3, borderDash: [3.5, 3], pointRadius: 0, order: 4 },
      { type: "line", data: [{ x: 225, y: tickHigh }, { x: 226, y: tickHigh }], borderColor: "#1414f0", borderWidth: 2, pointRadius: 0, order: 4 },
      { type: "line", data: [{ x: 225, y: tickLow }, { x: 226, y: tickLow }], borderColor: "#f01414", borderWidth: 2, pointRadius: 0, order: 4 },
      // session lines
      ...redBars.map(b => ({ type: "line", data: [{ x: b, y: 6700 }, { x: b, y: 6900 }], borderColor: "#d2562a", borderWidth: 2, pointRadius: 0, order: 60 })),
      // indicators
      dotted(sparse(goldRuns), "#b8901a"),
      dotted(sparse(blueRuns), "#8084d4"),
      { type: "line", data: xy(maLine, maStart), borderColor: "#241a66", borderWidth: 1.8, pointRadius: 0, order: 22 },
      { type: "line", data: xy(temaLine), borderColor: temaColors.d, borderWidth: 4.2, borderDash: [10, 5], pointRadius: 0, order: 25,
        segment: { borderColor: c => temaColors[runState(temaRuns, c.p1DataIndex)] } },
      { type: "line", data: treads(stopLine), borderColor: stopColors.d, borderWidth: 4.4, pointRadius: 0, order: 30, borderJoinStyle: "miter",
        segment: { borderColor: c => stopColors[runState(stopRuns, Math.floor(c.p1DataIndex / 2))] } },
      { type: "line", data: xy(hatemaLine), borderColor: "#e83c3c", borderWidth: 1.6, pointRadius: 0, order: 40,
        fill: { target: "+1", above: "rgba(232,70,30,0.22)", below: "rgba(140,160,20,0.22)" } },
      { type: "line", data: xy(bandLine), borderColor: "#8c9e08", borderWidth: 1.6, borderDash: [6, 3, 2, 3], pointRadius: 0, order: 41 },
      // candles
      { data: bars.map(i => ({ x: i, y: [bodyBot(i), bodyTop(i)] })), grouped: false, barThickness: 11, borderSkipped: false, borderWidth: 4,
        borderColor: bars.map(barColor),
        backgroundColor: bars.map(i => isHollow(i) ? "rgba(0,0,0,0)" : barColor(i)), order: 50 },
      { data: bars.map(i => ({ x: i, y: [bodyTop(i), highs[i]] })), grouped: false, barThickness: 5, borderWidth: 0, backgroundColor: bars.map(barColor), order: 51 },
      { data: bars.map(i => ({ x: i, y: [lows[i], bodyBot(i)] })), grouped: false, barThickness: 5, borderWidth: 0, backgroundColor: bars.map(barColor), order: 51 }
    ]
  },
  options: {
    responsive: false, animation: false, devicePixelRatio: 1,
    layout: { padding: 0, autoPadding: false },
    plugins: { legend: { display: false }, tooltip: { enabled: false }, title: { display: false }, filler: { propagate: false } },
    scales: {
      x: xOptions(false),
      y: yOptions(6768.83, 6825.78, priceTicks, priceGrid, v => v.toFixed(2))
    }
  },
  plugins: [backdrop, tagsPlugin]
});

const volChart = new Chart(document.getElementById("volChart"), {
  type: "bar",
  data: {
    datasets: [
      { type: "line", data: xy(perTickAvg), borderColor: "rgba(120,120,110,0.65)", borderWidth: 1.6, pointRadius: 0, order: 1 },
      { data: xy(perTick), grouped: false, barThickness: 3, backgroundColor: "#f5a31a", borderWidth: 0, minBarLength: 1.5, order: 2 }
    ]
  },
  options: {
    responsive: false, animation: false, devicePixelRatio: 1,
    layout: { padding: 0, autoPadding: false },
    plugins: { legend: { display: false }, tooltip: { enabled: false } },
    scales: {
      x: xOptions(true),
      y: yOptions(-151, 2010, volTicks, volGrid, v => v === 0 ? "" : String(v))
    }
  },
  plugins: [backdrop, volTagPlugin]
});
</script>
</body>
</html>
